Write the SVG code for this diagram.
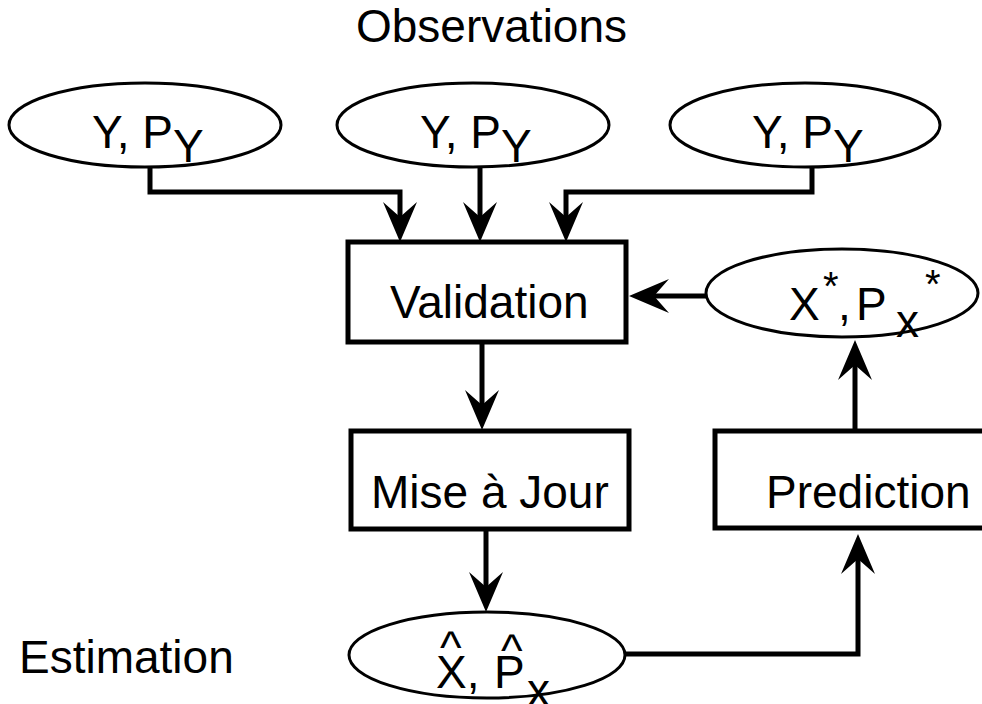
<svg xmlns="http://www.w3.org/2000/svg" width="982" height="704" viewBox="0 0 982 704">
<style>
  text { font-family: "Liberation Sans", Arial, sans-serif; font-size: 46px; fill: #000; }
  .box { fill: #fff; stroke: #000; stroke-width: 5; }
  .ell { fill: #fff; stroke: #000; stroke-width: 3; }
  .con { fill: none; stroke: #000; stroke-width: 5; stroke-linejoin: miter; }
  .star { font-size: 40px; }
</style>
<defs>
  <marker id="arr" markerUnits="userSpaceOnUse" viewBox="-20 -20 50 40" markerWidth="50" markerHeight="40" refX="0" refY="0" orient="auto" overflow="visible">
    <path d="M25,0 L-15,-17 L0,0 L-15,17 Z" fill="#000"/>
  </marker>
</defs>
<rect width="982" height="704" fill="#fff"/>

<text x="356" y="42">Observations</text>
<text x="19" y="673">Estimation</text>

<g id="connectors">
  <path class="con" d="M150,168 V192 H400 V217" marker-end="url(#arr)"/>
  <path class="con" d="M480,168 V217" marker-end="url(#arr)"/>
  <path class="con" d="M812,168 V192 H566 V217" marker-end="url(#arr)"/>
  <path class="con" d="M707,296 H654" marker-end="url(#arr)"/>
  <path class="con" d="M482,342 V405" marker-end="url(#arr)"/>
  <path class="con" d="M486,529 V587" marker-end="url(#arr)"/>
  <path class="con" d="M855,431 V365" marker-end="url(#arr)"/>
  <path class="con" d="M625,654 H858 V559" marker-end="url(#arr)"/>
</g>

<g id="obs1">
  <ellipse class="ell" cx="145" cy="125" rx="136" ry="42"/>
  <text x="92" y="148">Y, P<tspan dy="14">Y</tspan></text>
</g>
<g id="obs2">
  <ellipse class="ell" cx="473" cy="125" rx="136" ry="42"/>
  <text x="420" y="148">Y, P<tspan dy="14">Y</tspan></text>
</g>
<g id="obs3">
  <ellipse class="ell" cx="805" cy="125" rx="135" ry="42"/>
  <text x="752" y="148">Y, P<tspan dy="14">Y</tspan></text>
</g>

<g id="validation">
  <rect class="box" x="348" y="242" width="278" height="100"/>
  <text x="390" y="318">Validation</text>
</g>

<g id="prediction-state">
  <ellipse class="ell" cx="842" cy="293" rx="136" ry="44"/>
  <text><tspan x="789" y="320">X</tspan><tspan class="star" x="823" y="300">*</tspan><tspan x="838" y="320">,</tspan><tspan x="856" y="320">P</tspan><tspan x="896" y="337">x</tspan><tspan class="star" x="925" y="298">*</tspan></text>
</g>

<g id="mise-a-jour">
  <rect class="box" x="351" y="431" width="278" height="98"/>
  <text x="371" y="508">Mise à Jour</text>
</g>

<g id="prediction">
  <rect class="box" x="715" y="431" width="290" height="97"/>
  <text x="766" y="508">Prediction</text>
</g>

<g id="estimation">
  <ellipse class="ell" cx="487" cy="655" rx="138" ry="43"/>
  <text><tspan x="440" y="663">^</tspan><tspan x="501" y="666">^</tspan><tspan x="436" y="688">X,</tspan><tspan x="494" y="688">P</tspan><tspan x="527" y="706">x</tspan></text>
</g>
</svg>
